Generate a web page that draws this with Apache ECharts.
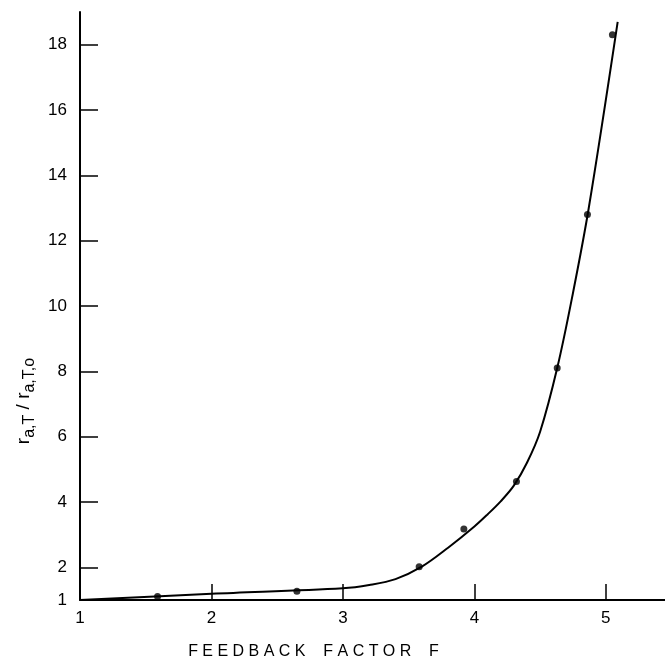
<!DOCTYPE html>
<html>
<head>
<meta charset="utf-8">
<script src="https://cdn.jsdelivr.net/npm/echarts@6/dist/echarts.min.js"></script>
<style>
  html, body { margin: 0; padding: 0; background: #fff; }
  #chart { width: 665px; height: 665px; }
</style>
</head>
<body>
<div id="chart"></div>
<script>
// measured points (feedback factor F, ratio)
const pointsF = [1.59, 2.65, 3.58, 3.92, 4.32, 4.63, 4.86, 5.05];
const pointsR = [1.11, 1.27, 2.02, 3.17, 4.63, 8.1, 12.8, 18.3];

// fitted curve as drawn
const curveF = [1.0, 2.0, 3.0, 3.2, 3.4, 3.6, 3.8, 4.0, 4.1, 4.2, 4.3, 4.4, 4.5, 4.63, 4.75, 4.87, 5.09];
const curveR = [1.0, 1.19, 1.36, 1.46, 1.64, 2.02, 2.6, 3.25, 3.62, 4.02, 4.5, 5.2, 6.15, 8.1, 10.4, 13.0, 18.7];

const yLabels = [1, 2, 4, 6, 8, 10, 12, 14, 16, 18];
const yTicks = [2, 4, 6, 8, 10, 12, 14, 16, 18];

const chart = echarts.init(document.getElementById('chart'));

chart.setOption({
  animation: false,
  backgroundColor: '#fff',
  grid: { left: 80, right: 0, top: 12, bottom: 62 },
  xAxis: {
    type: 'value',
    min: 1,
    max: 5.45,
    interval: 1,
    splitLine: { show: false },
    axisLine: { lineStyle: { color: '#000', width: 2 } },
    axisTick: { inside: true, length: 16, lineStyle: { color: '#000', width: 1.5 } },
    axisLabel: {
      color: '#000', fontSize: 17, fontFamily: 'Liberation Sans', margin: 10,
      showMaxLabel: false
    },
    name: 'F E E D B A C K    F A C T O R    F',
    nameLocation: 'middle',
    nameGap: 44,
    nameTextStyle: { color: '#000', fontSize: 16, fontFamily: 'Liberation Sans', padding: [0, 118, 0, 0] }
  },
  yAxis: {
    type: 'value',
    min: 1,
    max: 19,
    splitLine: { show: false },
    axisLine: { lineStyle: { color: '#000', width: 2 } },
    axisTick: {
      inside: true, length: 18, customValues: yTicks,
      lineStyle: { color: '#000', width: 1.5 }
    },
    axisLabel: {
      color: '#000', fontSize: 17, fontFamily: 'Liberation Sans', margin: 13,
      customValues: yLabels
    },
    name: 'r{s|a,T} / r{s|a,T,o}',
    nameLocation: 'middle',
    nameGap: 42,
    nameRotate: 90,
    nameTextStyle: {
      color: '#000', fontSize: 19, fontFamily: 'Liberation Sans',
      padding: [0, 190, 0, 0],
      rich: {
        s: { fontSize: 16, fontFamily: 'Liberation Sans', color: '#000', padding: [10, 0, 0, 0] }
      }
    }
  },
  series: [
    {
      type: 'line',
      data: curveF.map((f, i) => [f, curveR[i]]),
      smooth: 0.35,
      showSymbol: false,
      lineStyle: { color: '#000', width: 2 }
    },
    {
      type: 'scatter',
      data: pointsF.map((f, i) => [f, pointsR[i]]),
      symbolSize: 7,
      itemStyle: { color: '#000' }
    }
  ]
});
</script>
</body>
</html>
